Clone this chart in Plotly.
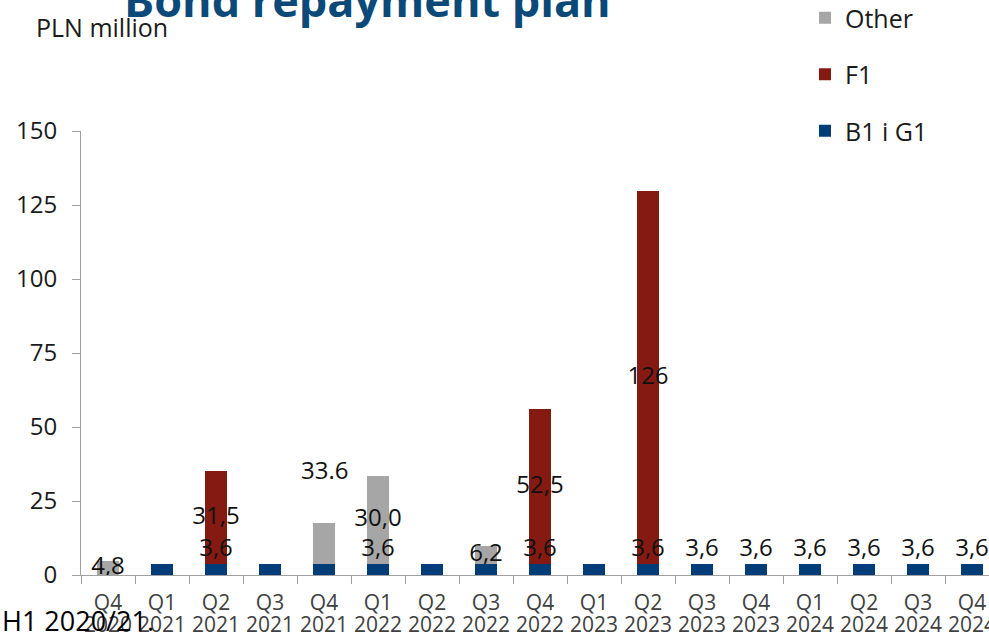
import plotly.graph_objects as go

# Repayment schedule, PLN million, by quarter
quarters = ["Q4", "Q1", "Q2", "Q3", "Q4", "Q1", "Q2", "Q3", "Q4",
            "Q1", "Q2", "Q3", "Q4", "Q1", "Q2", "Q3", "Q4"]
years = ["2020", "2021", "2021", "2021", "2021", "2022", "2022", "2022", "2022",
         "2023", "2023", "2023", "2023", "2024", "2024", "2024", "2024"]
b1_g1 = [0, 3.6, 3.6, 3.6, 3.6, 3.6, 3.6, 3.6, 3.6,
         3.6, 3.6, 3.6, 3.6, 3.6, 3.6, 3.6, 3.6]
f1 = [0, 0, 31.5, 0, 0, 0, 0, 0, 52.5,
      0, 126, 0, 0, 0, 0, 0, 0]
other = [4.8, 0, 0, 0, 14.0, 30.0, 0, 6.2, 0,
         0, 0, 0, 0, 0, 0, 0, 0]
# which quarters carry a value label on the B1 i G1 segment
b1_labelled = [False, False, True, False, False, True, False, False, True,
               False, True, True, True, True, True, True, True]
labelled_other = [True, False, False, False, False, True, False, True, False,
                  False, False, False, False, False, False, False, False]
y_ticks = [0, 25, 50, 75, 100, 125, 150]

cats = [f"{q} {y}" for q, y in zip(quarters, years)]

BLUE = "#003C78"
RED = "#851A12"
GREY = "#A6A6A6"
AXIS = "#A0A0A0"
FONT = "Open Sans"

# plot-area geometry in pixels (used to place free text)
L, T, W, H = 81, 131, 908, 444


def px_x(px):
    return (px - L) / W


def px_y(py):
    return (T + H - py) / H


def pl(v):
    return f"{v:.0f}" if v >= 100 else f"{v:.1f}".replace(".", ",")


fig = go.Figure()
fig.add_trace(go.Bar(x=cats, y=b1_g1, name="B1 i G1", marker_color=BLUE,
                     marker_line_width=0, legendgroup="a", legendrank=3,
                     hoverinfo="skip"))
fig.add_trace(go.Bar(x=cats, y=f1, name="F1", marker_color=RED,
                     marker_line_width=0, legendgroup="b", legendrank=2,
                     hoverinfo="skip"))
fig.add_trace(go.Bar(x=cats, y=other, name="Other", marker_color=GREY,
                     marker_line_width=0, legendgroup="c", legendrank=1,
                     hoverinfo="skip"))

# value labels: F1 and Other centred in their segments, B1 i G1 just above its bar
lx, ly, lt = [], [], []
for c, b, r, o, bl, ol in zip(cats, b1_g1, f1, other, b1_labelled, labelled_other):
    if r > 0:
        lx.append(c); ly.append(b + r / 2); lt.append(pl(r))
    if o > 0 and ol:
        lx.append(c); ly.append(b + o / 2); lt.append(pl(o))
    if bl:
        lx.append(c); ly.append(b + 4.85); lt.append(pl(b))
fig.add_trace(go.Scatter(x=lx, y=ly, text=lt, mode="text", showlegend=False,
                         textposition="middle center", hoverinfo="skip",
                         textfont=dict(family=FONT, size=24, color="#111111")))

# carrier for the year row of the category axis
fig.add_trace(go.Scatter(x=cats, y=[None] * len(cats), xaxis="x2", mode="markers",
                         showlegend=False, hoverinfo="skip"))

# total of Q1 2022 written above Q4 2021
i_q1 = 5
total_q1 = b1_g1[i_q1] + other[i_q1]
fig.add_annotation(x=cats[4], y=total_q1 + 2, text=f"{total_q1:.1f}", showarrow=False,
                   font=dict(family=FONT, size=24, color="#111111"))

fig.add_annotation(xref="paper", yref="paper", x=px_x(367), y=px_y(-0.5),
                   text="<b>Bond repayment plan</b>", showarrow=False,
                   xanchor="center", yanchor="middle",
                   font=dict(family=FONT, size=45, color="#0B4A78"))
fig.add_annotation(xref="paper", yref="paper", x=px_x(34), y=px_y(27),
                   text="PLN million", showarrow=False, xanchor="left", yanchor="middle",
                   font=dict(family=FONT, size=25, color="#1a1a1a"))
fig.add_annotation(xref="paper", yref="paper", x=px_x(0), y=px_y(620),
                   text="H1 2020/21.", showarrow=False, xanchor="left", yanchor="middle",
                   font=dict(family=FONT, size=27, color="#000000"))

fig.update_layout(
    width=989, height=635,
    margin=dict(l=L, r=0, t=T, b=635 - T - H, pad=0, autoexpand=False),
    paper_bgcolor="white", plot_bgcolor="white",
    barmode="stack", bargap=0.61,
    font=dict(family=FONT, color="#1a1a1a"),
    showlegend=True,
    legend=dict(x=px_x(805), y=px_y(-5), xanchor="left", yanchor="top",
                traceorder="grouped", tracegroupgap=21,
                font=dict(family=FONT, size=25, color="#1a1a1a"),
                bgcolor="rgba(0,0,0,0)"),
    xaxis=dict(type="category", categoryorder="array", categoryarray=cats,
               range=[-0.5, -0.5 + W / 54], autorange=False,
               tickmode="array", tickvals=cats, ticktext=quarters,
               tickson="boundaries", ticks="outside", ticklen=8, tickcolor=AXIS,
               showline=True, linecolor=AXIS, linewidth=1, showgrid=False,
               zeroline=False, ticklabeloverflow="allow", ticklabelstandoff=9,
               tickfont=dict(family=FONT, size=21, color="#404040")),
    xaxis2=dict(type="category", overlaying="x", matches="x", anchor="y", side="bottom",
                categoryorder="array", categoryarray=cats,
                tickmode="array", tickvals=cats, ticktext=years,
                ticks="", showline=False, showgrid=False, zeroline=False,
                ticklabeloverflow="allow", ticklabelstandoff=35,
                tickfont=dict(family=FONT, size=21, color="#404040")),
    yaxis=dict(range=[0, 150], autorange=False, tickmode="array", tickvals=y_ticks,
               ticks="outside", ticklen=8, tickcolor=AXIS,
               showline=True, linecolor=AXIS, linewidth=1, showgrid=False,
               zeroline=False, ticklabelstandoff=10,
               tickfont=dict(family=FONT, size=24, color="#1a1a1a")),
)

fig.write_html("out.html")
